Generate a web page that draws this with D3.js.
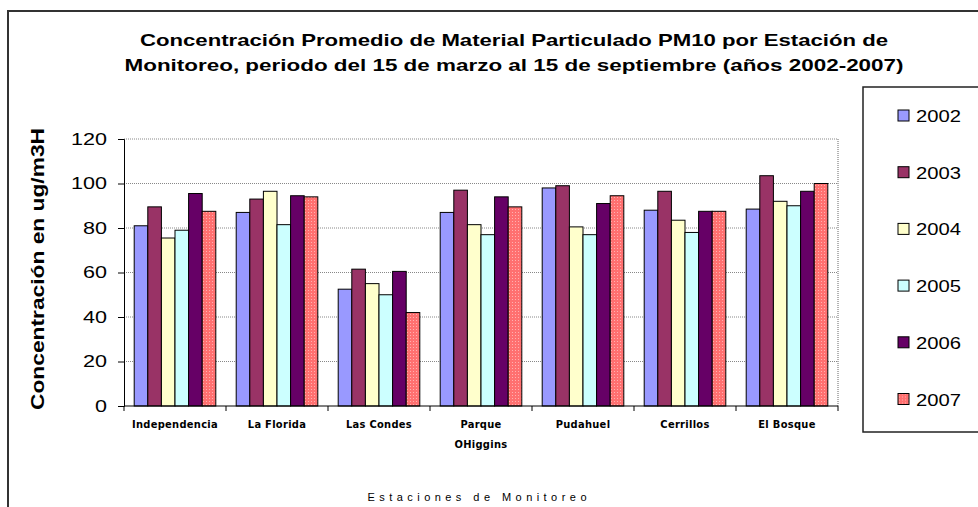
<!DOCTYPE html>
<html>
<head>
<meta charset="utf-8">
<script src="https://cdn.jsdelivr.net/npm/d3@7"></script>
<style>
  body { margin: 0; background: #fff; }
  svg { display: block; font-family: "Liberation Sans", Arial, sans-serif; }
</style>
</head>
<body>
<svg id="chart" width="978" height="507"></svg>
<script>
// chart data
const stations = ["Independencia", "La Florida", "Las Condes", "Parque OHiggins", "Pudahuel", "Cerrillos", "El Bosque"];
const stationLabels = [["Independencia"], ["La Florida"], ["Las Condes"], ["Parque", "OHiggins"], ["Pudahuel"], ["Cerrillos"], ["El Bosque"]];
const years = ["2002", "2003", "2004", "2005", "2006", "2007"];
const v2002 = [81, 87, 52.5, 87, 98, 88, 88.5];
const v2003 = [89.5, 93, 61.5, 97, 99, 96.5, 103.5];
const v2004 = [75.5, 96.5, 55, 81.5, 80.5, 83.5, 92];
const v2005 = [79, 81.5, 50, 77, 77, 78, 90];
const v2006 = [95.5, 94.5, 60.5, 94, 91, 87.5, 96.5];
const v2007 = [87.5, 94, 42, 89.5, 94.5, 87.5, 100];
const series = [v2002, v2003, v2004, v2005, v2006, v2007];
const yTicks = [0, 20, 40, 60, 80, 100, 120];
const colors = ["#9999ff", "#993366", "#ffffcc", "#ccffff", "#660066", "url(#hatch)"];

const svg = d3.select("#chart");
const margin = {left: 124, right: 140, top: 139, bottom: 101};
const width = 978 - margin.left - margin.right;
const height = 507 - margin.top - margin.bottom;

// hatch fill for 2007
const defs = svg.append("defs");
const pat = defs.append("pattern").attr("id", "hatch")
    .attr("width", 3).attr("height", 3).attr("patternUnits", "userSpaceOnUse");
pat.append("rect").attr("width", 3).attr("height", 3).attr("fill", "#ff7070");
pat.append("rect").attr("x", 1).attr("y", 1).attr("width", 1).attr("height", 1).attr("fill", "#ffb0b0");

// outer chart border
svg.append("path")
    .attr("d", "M8,507V11H990")
    .attr("fill", "none").attr("stroke", "#333").attr("stroke-width", 2);

// title
const title = ["Concentración Promedio de Material Particulado PM10 por Estación de",
               "Monitoreo, periodo del 15 de marzo al 15 de septiembre (años 2002-2007)"];
const titleLen = [748, 779];
svg.selectAll(".title").data(title).join("text")
    .attr("class", "title")
    .attr("x", 514).attr("y", (d, i) => 46 + i * 25)
    .attr("text-anchor", "middle")
    .attr("font-size", 17).attr("font-weight", "bold")
    .attr("textLength", (d, i) => titleLen[i]).attr("lengthAdjust", "spacingAndGlyphs")
    .text(d => d);

const g = svg.append("g").attr("transform", `translate(${margin.left},${margin.top})`);

const x0 = d3.scaleBand().domain(stations).range([0, width]);
const x1 = d3.scaleBand().domain(years)
    .range([x0.bandwidth() * 0.1, x0.bandwidth() * 0.9]);
const y = d3.scaleLinear().domain([0, 120]).range([height, 0]);

// gridlines
g.append("g").selectAll("line").data(yTicks.filter(t => t > 0)).join("line")
    .attr("x1", 0).attr("x2", width)
    .attr("y1", d => y(d)).attr("y2", d => y(d))
    .attr("stroke", "#888").attr("stroke-dasharray", "1,1");
g.append("line").attr("x1", width).attr("x2", width).attr("y1", 0).attr("y2", height)
    .attr("stroke", "#666").attr("stroke-dasharray", "1,1");

// bars
years.forEach((yr, si) => {
    g.append("g").selectAll("rect").data(series[si]).join("rect")
        .attr("x", (d, i) => x0(stations[i]) + x1(yr))
        .attr("y", d => y(d))
        .attr("width", x1.bandwidth())
        .attr("height", d => height - y(d))
        .attr("fill", colors[si])
        .attr("stroke", "#000").attr("stroke-width", 1);
});

// y axis
const yAxis = g.append("g")
    .call(d3.axisLeft(y).tickValues(yTicks).tickSize(6).tickPadding(11));
yAxis.select(".domain").attr("stroke", "#000");
yAxis.selectAll("text")
    .attr("font-size", 17).attr("font-family", "Liberation Sans, Arial, sans-serif").attr("fill", "#000")
    .attr("textLength", d => String(d).length * 12).attr("lengthAdjust", "spacingAndGlyphs");

// x axis
const xAxis = g.append("g").attr("transform", `translate(0,${height})`);
xAxis.append("line").attr("x1", 0).attr("x2", width).attr("stroke", "#000");
xAxis.selectAll(".tk").data(d3.range(stations.length + 1)).join("line")
    .attr("class", "tk")
    .attr("x1", d => d * x0.step()).attr("x2", d => d * x0.step())
    .attr("y1", 0).attr("y2", 5).attr("stroke", "#000");
stations.forEach((s, i) => {
    xAxis.append("text")
        .attr("x", x0(s) + x0.bandwidth() / 2)
        .attr("text-anchor", "middle")
        .attr("font-size", 11)
        .attr("font-family", "DejaVu Sans Condensed, Liberation Sans Narrow, sans-serif")
        .attr("font-weight", "bold")
        .attr("letter-spacing", 0.3)
        .selectAll("tspan").data(stationLabels[i]).join("tspan")
        .attr("x", x0(s) + x0.bandwidth() / 2)
        .attr("y", (d, j) => 22 + j * 20)
        .text(d => d);
});

// axis titles
svg.append("text")
    .attr("transform", "translate(44,269) rotate(-90)")
    .attr("text-anchor", "middle")
    .attr("font-size", 18).attr("font-weight", "bold")
    .attr("textLength", 282).attr("lengthAdjust", "spacingAndGlyphs")
    .text("Concentración en ug/m3H");
svg.append("text")
    .attr("x", 477).attr("y", 501)
    .attr("text-anchor", "middle")
    .attr("font-size", 11)
    .attr("textLength", 219).attr("lengthAdjust", "spacing")
    .text("Estaciones de Monitoreo");

// legend
const legend = svg.append("g");
legend.append("rect")
    .attr("x", 863).attr("y", 87).attr("width", 140).attr("height", 345)
    .attr("fill", "#fff").attr("stroke", "#222").attr("stroke-width", 1.5);
const items = legend.selectAll(".item").data(years).join("g")
    .attr("class", "item")
    .attr("transform", (d, i) => `translate(898,${115 + i * 56.7})`);
items.append("rect")
    .attr("x", 0).attr("y", -5).attr("width", 11).attr("height", 11)
    .attr("fill", (d, i) => colors[i]).attr("stroke", "#000");
items.append("text")
    .attr("x", 18).attr("y", 7)
    .attr("font-size", 17)
    .attr("textLength", 45).attr("lengthAdjust", "spacingAndGlyphs")
    .text(d => d);
</script>
</body>
</html>
